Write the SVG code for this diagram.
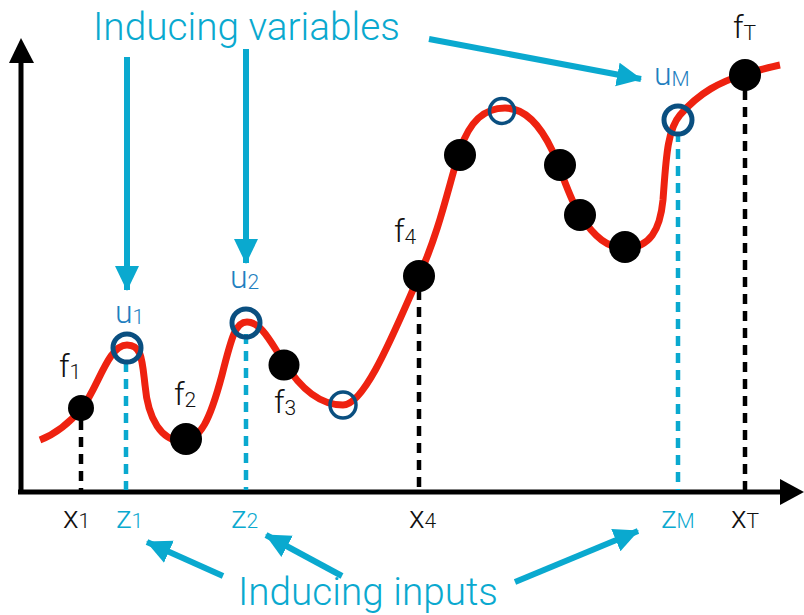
<svg xmlns="http://www.w3.org/2000/svg" width="804" height="615" viewBox="0 0 804 615">
<style>
.lbl{font-family:Roboto,"Liberation Sans",sans-serif;font-weight:300;font-size:32px}
.sub{font-size:21px}
.blk{fill:#111}
.cy{fill:#0aa9cf}
.bu{fill:#1f7fc0}
.big{font-family:Roboto,"Liberation Sans",sans-serif;font-weight:300;font-size:38px;fill:#0aa9cf}
.dk{stroke:#000;stroke-width:4.5;stroke-dasharray:10 7;fill:none}
.dc{stroke:#0aa9cf;stroke-width:4.5;stroke-dasharray:10 7;fill:none}
.dot{fill:#000}
.ring{fill:none;stroke:#0a4f80}
.arr{stroke:#0aa9cf;stroke-width:6;fill:none;marker-end:url(#ah)}
</style>
<defs>
<marker id="ah" markerUnits="userSpaceOnUse" markerWidth="26" markerHeight="26" viewBox="0 0 26 26" refX="24" refY="13" orient="auto">
<path d="M0,1 L25,13 L0,25 Z" fill="#0aa9cf"/>
</marker>
</defs>
<rect width="804" height="615" fill="#fff"/>
<g id="axes">
<line x1="21" y1="492" x2="21" y2="58" stroke="#000" stroke-width="5"/>
<path d="M21,38 L9,63 L34,63 Z" fill="#000"/>
<line x1="18" y1="492" x2="784" y2="492" stroke="#000" stroke-width="5"/>
<path d="M804,492 L780,479 L780,505 Z" fill="#000"/>
</g>
<g id="guides">
<line class="dk" x1="81" y1="420" x2="81" y2="490"/>
<line class="dc" x1="126" y1="362" x2="126" y2="490"/>
<line class="dc" x1="246" y1="334" x2="246" y2="490"/>
<line class="dk" x1="419" y1="290" x2="419" y2="490"/>
<line class="dc" x1="678" y1="132" x2="678" y2="490"/>
<line class="dk" x1="745" y1="90" x2="745" y2="490"/>
</g>
<g id="curve">
<path d="M40,440 C58,433 72,420 82,408 C98,388 108,345 127,345 C142,345 142,360 145,385 C148,420 162,441 182,441 C200,441 210,420 222,375 C232,335 236,322 247,322 C262,322 272,345 284,362 C300,388 320,405 343,405 C365,405 395,330 419,276 C440,230 450,180 460,150 C470,120 485,108 505,108 C525,108 540,125 552,150 C562,172 570,200 580,215 C595,238 608,248 625,248 C650,248 660,230 663,200 C666,160 667,130 680,115 C700,92 720,82 745,74 C760,70 770,67 780,65" fill="none" stroke="#ee2210" stroke-width="7"/>
</g>
<g id="f1"><circle class="dot" cx="81" cy="408" r="13"/></g>
<g id="u1"><circle class="ring" cx="127" cy="348" r="14" stroke-width="5"/></g>
<g id="f2"><circle class="dot" cx="186" cy="439" r="16"/></g>
<g id="u2"><circle class="ring" cx="246" cy="323" r="14" stroke-width="5"/></g>
<g id="f3"><circle class="dot" cx="284" cy="365" r="15.5"/></g>
<g id="u3"><circle class="ring" cx="343" cy="405" r="13" stroke-width="3.5"/></g>
<g id="f4"><circle class="dot" cx="419" cy="276" r="16"/></g>
<g id="f5"><circle class="dot" cx="460" cy="155" r="16"/></g>
<g id="u4"><circle class="ring" cx="502" cy="111" r="12.5" stroke-width="3.5"/></g>
<g id="f6"><circle class="dot" cx="560" cy="165" r="16"/></g>
<g id="f7"><circle class="dot" cx="580" cy="215" r="16"/></g>
<g id="f8"><circle class="dot" cx="625" cy="247" r="16"/></g>
<g id="uM"><circle class="ring" cx="678" cy="120" r="14" stroke-width="5"/></g>
<g id="fT"><circle class="dot" cx="745" cy="75" r="16"/></g>
<g id="connectors">
<line class="arr" x1="127" y1="57" x2="127" y2="290"/>
<line class="arr" x1="246" y1="49" x2="246" y2="263"/>
<line class="arr" x1="429" y1="39" x2="641" y2="79"/>
<line class="arr" x1="223" y1="576" x2="147" y2="542"/>
<line class="arr" x1="342" y1="576" x2="266" y2="535"/>
<line class="arr" x1="515" y1="582" x2="638" y2="531"/>
</g>
<g id="labels">
<text class="big" x="93" y="40" textLength="307" lengthAdjust="spacingAndGlyphs">Inducing variables</text>
<text class="big" x="238" y="605" font-size="36" textLength="260" lengthAdjust="spacingAndGlyphs">Inducing inputs</text>
<text class="lbl blk" x="59" y="377">f<tspan class="sub" dy="2">1</tspan></text>
<text class="lbl bu" x="115" y="323">u<tspan class="sub" dy="1">1</tspan></text>
<text class="lbl blk" x="174" y="405">f<tspan class="sub" dy="2">2</tspan></text>
<text class="lbl bu" x="230" y="288">u<tspan class="sub" dy="1">2</tspan></text>
<text class="lbl blk" x="274" y="413">f<tspan class="sub" dy="2">3</tspan></text>
<text class="lbl blk" x="394" y="242">f<tspan class="sub" dy="2">4</tspan></text>
<text class="lbl bu" x="654" y="85">u<tspan class="sub" dy="1">M</tspan></text>
<text class="lbl blk" x="733" y="38">f<tspan class="sub" dy="2">T</tspan></text>
<text class="lbl blk" x="63" y="528">x<tspan class="sub">1</tspan></text>
<text class="lbl cy" x="116" y="528">z<tspan class="sub">1</tspan></text>
<text class="lbl cy" x="231" y="528">z<tspan class="sub">2</tspan></text>
<text class="lbl blk" x="409" y="528">x<tspan class="sub">4</tspan></text>
<text class="lbl cy" x="661" y="528">z<tspan class="sub">M</tspan></text>
<text class="lbl blk" x="731" y="528">x<tspan class="sub">T</tspan></text>
</g>
</svg>
